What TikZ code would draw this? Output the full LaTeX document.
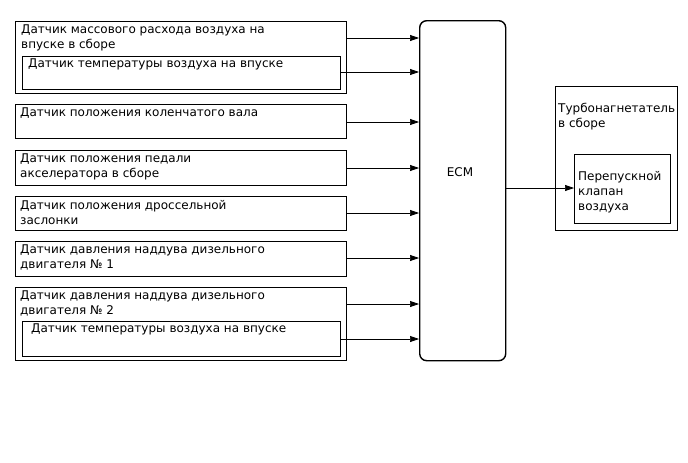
\documentclass[tikz,border=0pt]{standalone}
\usepackage{fontspec}
\setmainfont{DejaVu Sans}
\usetikzlibrary{arrows.meta}
\begin{document}
\begin{tikzpicture}[x=1pt,y=-1pt,
  box/.style={draw,line width=1.4pt,inner sep=0pt,anchor=north west},
  ecmbox/.style={draw,line width=1.4pt,inner sep=0pt,anchor=north west,rounded corners=7pt},
  txt/.style={anchor=north west,inner sep=0pt,align=left,font=\fontsize{12}{15}\selectfont},
  arr/.style={line width=0.7pt,-{Triangle[length=9pt,width=6pt]}}]
\useasboundingbox (0,0) rectangle (688,463);
% ECM
\node[ecmbox,minimum width=86pt,minimum height=340pt] (ecm) at (419,20) {};
\node[txt,anchor=center] (ecmt) at (460,172) {ECM};
% sensors
\node[box,minimum width=331pt,minimum height=72pt] (maf) at (15,21) {};
\node[txt] (maft) at (21,25) {Датчик массового расхода воздуха на\\впуске в сборе};
\node[box,minimum width=318pt,minimum height=33pt] (iat1) at (22,56) {};
\node[txt] (iat1t) at (28,59) {Датчик температуры воздуха на впуске};
\node[box,minimum width=331pt,minimum height=34pt] (ckp) at (15,104) {};
\node[txt] (ckpt) at (20,108) {Датчик положения коленчатого вала};
\node[box,minimum width=331pt,minimum height=35pt] (app) at (15,150) {};
\node[txt] (appt) at (20,154) {Датчик положения педали\\акселератора в сборе};
\node[box,minimum width=331pt,minimum height=34pt] (tps) at (15,196) {};
\node[txt] (tpst) at (20,200) {Датчик положения дроссельной\\заслонки};
\node[box,minimum width=331pt,minimum height=35pt] (bp1) at (15,241) {};
\node[txt] (bp1t) at (20,245) {Датчик давления наддува дизельного\\двигателя № 1};
\node[box,minimum width=331pt,minimum height=73pt] (bp2) at (15,287) {};
\node[txt] (bp2t) at (20,291) {Датчик давления наддува дизельного\\двигателя № 2};
\node[box,minimum width=318pt,minimum height=35pt] (iat2) at (22,321) {};
\node[txt] (iat2t) at (31,324) {Датчик температуры воздуха на впуске};
% turbo
\node[box,minimum width=122pt,minimum height=144pt] (turbo) at (555,86) {};
\node[txt] (turbot) at (558,103) {Турбонагнетатель\\в сборе};
\node[box,minimum width=96pt,minimum height=69pt] (byp) at (574,154) {};
\node[txt] (bypt) at (578,171) {Перепускной\\клапан\\воздуха};
% arrows
\draw[arr] ([yshift=-17pt]maf.north east) -- ([yshift=-17pt]maf.north east -| ecm.west);
\draw[arr] ([yshift=-16pt]iat1.north east) -- ([yshift=-16pt]iat1.north east -| ecm.west);
\draw[arr] ([yshift=-18pt]ckp.north east) -- ([yshift=-18pt]ckp.north east -| ecm.west);
\draw[arr] ([yshift=-18pt]app.north east) -- ([yshift=-18pt]app.north east -| ecm.west);
\draw[arr] ([yshift=-17pt]tps.north east) -- ([yshift=-17pt]tps.north east -| ecm.west);
\draw[arr] ([yshift=-17pt]bp1.north east) -- ([yshift=-17pt]bp1.north east -| ecm.west);
\draw[arr] ([yshift=-17pt]bp2.north east) -- ([yshift=-17pt]bp2.north east -| ecm.west);
\draw[arr] ([yshift=-18pt]iat2.north east) -- ([yshift=-18pt]iat2.north east -| ecm.west);
\draw[arr] ([yshift=-34pt]byp.north west -| ecm.east) -- ([yshift=-34pt]byp.north west);
\end{tikzpicture}
\end{document}
